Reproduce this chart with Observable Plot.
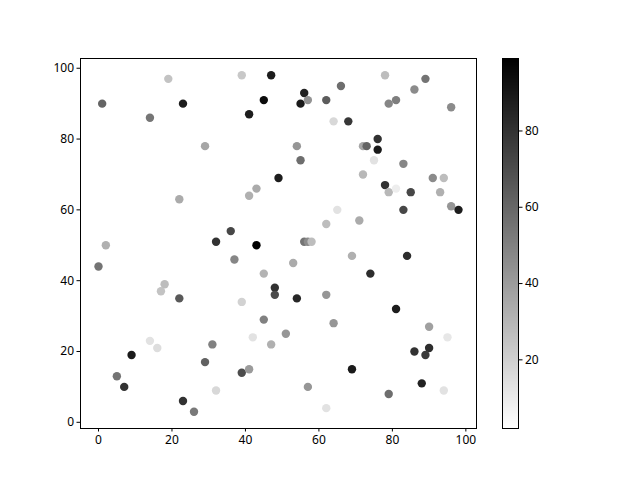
<!DOCTYPE html>
<html>
<head>
<meta charset="utf-8">
<script src="https://cdn.jsdelivr.net/npm/d3@7"></script>
<script src="https://cdn.jsdelivr.net/npm/@observablehq/plot@0.6"></script>
<style>
  html, body { margin: 0; padding: 0; background: white; }
  #chart { position: relative; width: 640px; height: 480px; }
  #chart svg { position: absolute; top: 0; left: 0; }
</style>
</head>
<body>
<div id="chart"></div>
<script>
// Scatter data (x, y, colour value)
const xs = [19, 39, 47, 78, 89, 1, 23, 45, 56, 55, 57, 62, 66, 79, 81, 86, 96, 14, 41, 64,
            68, 76, 72, 73, 76, 29, 54, 55, 75, 83, 49, 72, 78, 79, 81, 85, 91, 94, 93, 83,
            96, 98, 71, 22, 2, 43, 41, 65, 62, 36, 32, 43, 56, 57, 58, 0, 18, 17, 22, 14,
            16, 9, 5, 7, 23, 26, 31, 29, 32, 37, 53, 45, 48, 48, 54, 62, 39, 45, 64, 42,
            47, 51, 39, 41, 57, 62, 69, 84, 74, 81, 90, 95, 86, 90, 89, 69, 88, 79, 94];
const ys = [97, 98, 98, 98, 97, 90, 90, 91, 93, 90, 91, 91, 95, 90, 91, 94, 89, 86, 87, 85,
            85, 80, 78, 78, 77, 78, 78, 74, 74, 73, 69, 70, 67, 65, 66, 65, 69, 69, 65, 60,
            61, 60, 57, 63, 50, 66, 64, 60, 56, 54, 51, 50, 51, 51, 51, 44, 39, 37, 35, 23,
            21, 19, 13, 10, 6, 3, 22, 17, 9, 46, 45, 42, 38, 36, 35, 36, 34, 29, 28, 24,
            22, 25, 14, 15, 10, 4, 47, 47, 42, 32, 27, 24, 20, 21, 19, 15, 11, 8, 9];
const cs = [25, 23, 88, 27, 55, 61, 88, 95, 86, 89, 43, 64, 57, 48, 51, 46, 46, 54, 88, 17,
            78, 80, 36, 61, 89, 36, 42, 57, 13, 48, 88, 29, 80, 29, 9, 72, 46, 27, 32, 72,
            42, 88, 34, 34, 32, 34, 32, 13, 27, 72, 80, 99, 55, 46, 27, 55, 27, 25, 65, 13,
            15, 89, 55, 80, 80, 53, 50, 62, 17, 48, 34, 31, 80, 70, 84, 42, 19, 50, 42, 13,
            32, 42, 70, 40, 42, 13, 32, 82, 82, 88, 38, 11, 80, 82, 77, 89, 86, 57, 13];
const colorDomain = [2, 99];
const xTicks = [0, 20, 40, 60, 80, 100];
const yTicks = [0, 20, 40, 60, 80, 100];
const cTicks = [20, 40, 60, 80];

const data = xs.map((x, i) => ({x, y: ys[i], c: cs[i]}));

function padded(vals) {
  const [lo, hi] = d3.extent(vals);
  const m = (hi - lo) * 0.05;
  return [lo - m, hi + m];
}

const font = "'Noto Sans', 'DejaVu Sans', sans-serif";
const colorOpts = {type: "linear", domain: colorDomain, range: ["white", "black"], interpolate: "rgb"};

const main = Plot.plot({
  width: 640, height: 480,
  marginLeft: 80, marginRight: 164, marginTop: 58, marginBottom: 52,
  style: {fontFamily: font, fontSize: "12px", color: "black", background: "white", overflow: "visible"},
  x: {domain: padded(xs)},
  y: {domain: padded(ys)},
  color: colorOpts,
  marks: [
    Plot.dot(data, {x: "x", y: "y", fill: "c", r: 4.2, stroke: null}),
    Plot.frame({stroke: "black", strokeWidth: 1}),
    Plot.axisX({ticks: xTicks, tickSize: 3.5, tickPadding: 3, tickFormat: d => d, label: null, fontSize: 12}),
    Plot.axisY({ticks: yTicks, tickSize: 3.5, tickPadding: 3, tickFormat: d => d, label: null, fontSize: 12})
  ]
});

// colour ramp: one thin band per ~pixel, crisp edges so no seams show
const nBands = 370;
const ramp = d3.range(nBands).map(i => colorDomain[0] + (colorDomain[1] - colorDomain[0]) * i / nBands);
const bandH = (colorDomain[1] - colorDomain[0]) / nBands;
const bar = Plot.plot({
  width: 640, height: 480,
  marginLeft: 502, marginRight: 122, marginTop: 58, marginBottom: 52,
  style: {fontFamily: font, fontSize: "12px", color: "black", background: "transparent", overflow: "visible"},
  x: {domain: [0, 1], axis: null},
  y: {domain: colorDomain},
  color: colorOpts,
  marks: [
    Plot.rect(ramp, {x1: 0, x2: 1, y1: d => d, y2: d => Math.min(d + bandH * 1.6, colorDomain[1]),
                     fill: d => d + bandH / 2, shapeRendering: "crispEdges"}),
    Plot.frame({stroke: "black", strokeWidth: 1}),
    Plot.axisY({anchor: "right", ticks: cTicks, tickSize: 3.5, tickPadding: 3, tickFormat: d => d, label: null, fontSize: 12})
  ]
});

const chart = document.getElementById("chart");
chart.appendChild(main);
chart.appendChild(bar);
</script>
</body>
</html>
